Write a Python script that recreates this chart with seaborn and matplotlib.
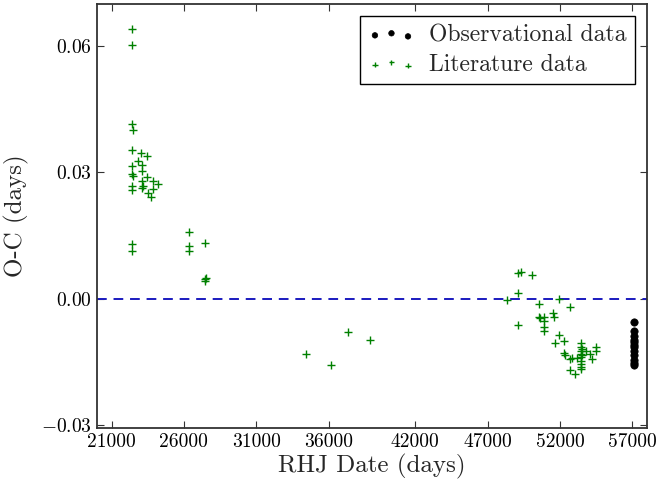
import matplotlib
matplotlib.use("Agg")
import matplotlib.pyplot as plt
import seaborn as sns
import pandas as pd

# Literature data (RHJ date, O-C in days)
lit_x = [22420, 22420, 22420, 22490, 22420, 23060, 23460, 22420, 22800, 23110,
         22420, 22490, 23110, 23460, 23110, 23870, 24190, 22420, 23180, 22420,
         23110, 23870, 23520, 23750, 22420, 22420, 26330, 26330, 26330, 27440,
         27500, 27480, 27460,
         34440, 36190, 37370, 38840,
         48330, 49090, 49090, 49320, 50060, 49090, 50520, 51900, 52660, 50520,
         50630, 50860, 50860, 50860, 50860, 51510, 51550, 51900, 51670, 52290,
         52290, 52360, 52710, 52820, 52710, 53050, 53170, 53450, 53450, 53450,
         53450, 53450, 53450, 53450, 53450, 53450, 53810, 54090, 54200, 54500,
         54500, 53520, 53520]
lit_y = [0.0640, 0.0603, 0.0414, 0.0401, 0.0352, 0.0345, 0.0339, 0.0316, 0.0326, 0.0318,
         0.0296, 0.0292, 0.0304, 0.0290, 0.0280, 0.0280, 0.0272, 0.0268, 0.0268, 0.0259,
         0.0262, 0.0261, 0.0252, 0.0242, 0.0130, 0.0112, 0.0159, 0.0124, 0.0112, 0.0132,
         0.0050, 0.0043, 0.0046,
         -0.0131, -0.0157, -0.0079, -0.0098,
         -0.0003, 0.0014, 0.0062, 0.0064, 0.0055, -0.0062, -0.0013, -0.0001, -0.0021, -0.0044,
         -0.0047, -0.0043, -0.0054, -0.0067, -0.0078, -0.0034, -0.0044, -0.0086, -0.0106, -0.0100,
         -0.0128, -0.0135, -0.0143, -0.0142, -0.0169, -0.0180, -0.0141, -0.0106, -0.0116, -0.0124,
         -0.0131, -0.0139, -0.0147, -0.0155, -0.0163, -0.0167, -0.0124, -0.0131, -0.0143, -0.0116,
         -0.0124, -0.0120, -0.0135]

# Observational data
obs_x = [57100, 57100, 57100, 57100, 57100, 57100, 57100, 57100, 57100, 57100, 57100, 57100]
obs_y = [-0.0055, -0.0076, -0.0088, -0.0098, -0.0104, -0.0109, -0.0116, -0.0124, -0.0135,
         -0.0146, -0.0152, -0.0157]

x_ticks = [21000, 26000, 31000, 36000, 42000, 47000, 52000, 57000]
y_ticks = [-0.03, 0.00, 0.03, 0.06]

sns.set_style("ticks")
plt.rcParams['font.family'] = ['cmr10', 'DejaVu Serif']
plt.rcParams['axes.formatter.use_mathtext'] = True
plt.rcParams['mathtext.fontset'] = 'cm'

fig = plt.figure(figsize=(6.56, 4.84), dpi=100)
ax = fig.add_axes([0.148, 0.116, 0.838, 0.875])

obs = pd.DataFrame({"x": obs_x, "y": obs_y})
lit = pd.DataFrame({"x": lit_x, "y": lit_y})

sns.scatterplot(data=obs, x="x", y="y", ax=ax, color="black", marker="o", s=28,
                edgecolor="black", linewidth=0.5, label="Observational data", zorder=3)
sns.scatterplot(data=lit, x="x", y="y", ax=ax, color=(0, 0.5, 0), marker="+", s=30,
                linewidth=1.0, label="Literature data", zorder=3)
ax.axhline(0, color=(0.1, 0.1, 0.75), linestyle=(0, (5, 3.5)), linewidth=1.4, zorder=2)

ax.set_xlim(20000, 58000)
ax.set_ylim(-0.0307, 0.0699)
ax.set_xticks(x_ticks)
ax.set_xticklabels([str(t) for t in x_ticks])
ax.set_yticks(y_ticks)
ax.set_yticklabels([r"$-0.03$", r"$0.00$", r"$0.03$", r"$0.06$"])
ax.tick_params(direction="in", length=5, width=0.8, labelsize=14, top=True, right=True,
               colors="#333333", labelcolor="black", pad=4)
for sp in ax.spines.values():
    sp.set_linewidth(1.3)
    sp.set_color("#333333")

ax.set_xlabel("RHJ Date (days)", fontsize=18, labelpad=2)
ax.set_ylabel("O-C (days)", fontsize=18, labelpad=8)

leg = ax.legend(loc="upper right", scatterpoints=3, fontsize=17, fancybox=False,
                frameon=True, edgecolor="black", framealpha=1, borderaxespad=0.5,
                handletextpad=0.6, borderpad=0.35, labelspacing=0.3, markerscale=0.75)
leg.get_frame().set_linewidth(1.0)

fig.savefig("out.png", dpi=100)
